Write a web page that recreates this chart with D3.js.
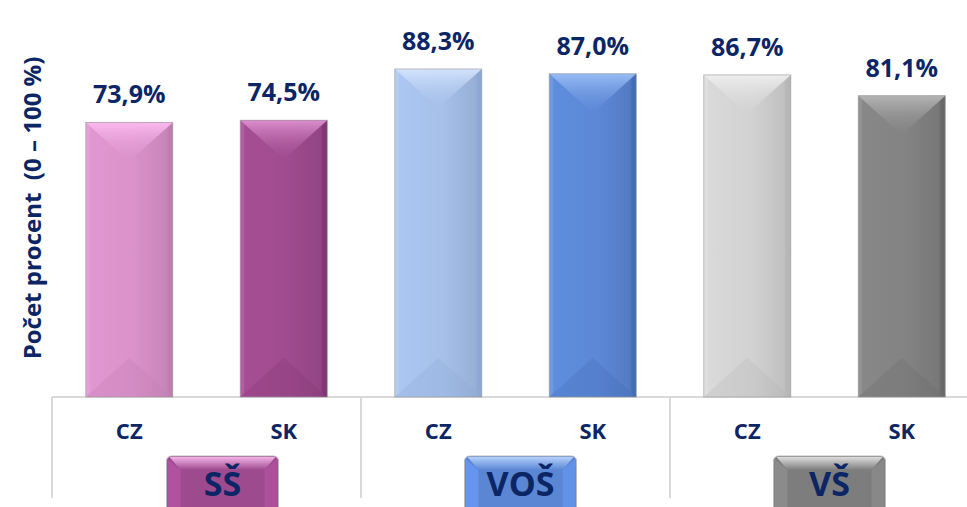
<!DOCTYPE html>
<meta charset="utf-8">
<script src="https://cdn.jsdelivr.net/npm/d3@7"></script>
<style>
body { margin: 0; background: #fff; }
text { font-family: "Open Sans", Lato, sans-serif; font-weight: 700; fill: #0b2565; white-space: pre; }
</style>
<body>
<script>

// data
var groups = ["SŠ", "VOŠ", "VŠ"];
var countries = ["CZ", "SK"];
var values = [73.9, 74.5, 88.3, 87.0, 86.7, 81.1];
var valueLabels = ["73,9%", "74,5%", "88,3%", "87,0%", "86,7%", "81,1%"];
var axisTitle = "Počet procent  (0 – 100 %)";

// colours per bar: [base, light, dark]
var barColors = [
  ["#da92ca", "#fab9ee", "#bf7aae"],
  ["#a04b90", "#db8ecd", "#7e3470"],
  ["#a6c0ea", "#d2e3fc", "#8aa6d4"],
  ["#5c88d6", "#97bcf5", "#4069b3"],
  ["#d2d2d2", "#eeeeee", "#b4b4b4"],
  ["#838383", "#b4b4b4", "#666666"]
];
var boxColors = [
  ["#9e4a8e", "#f3b1e6"],
  ["#5a86d4", "#b3d0fa"],
  ["#7d7d7d", "#dcdcdc"]
];
var boxShift = [16, 5, 5];

var width = 967, height = 507;
var base = 397;

var svg = d3.select("body").append("svg")
    .attr("width", width)
    .attr("height", height);

var defs = svg.append("defs");

var xGroup = d3.scaleBand().domain(groups).range([52, 979]);
var xInner = d3.scaleBand().domain(countries)
    .range([0, xGroup.bandwidth()])
    .paddingInner(0.437).paddingOuter(0.2185);
var y = d3.scaleLinear().domain([0, 100]).range([base, 25.5]);

var rows = values.map(function(v, i) {
  return {
    group: groups[Math.floor(i / 2)],
    country: countries[i % 2],
    value: v,
    label: valueLabels[i],
    col: barColors[i],
    i: i
  };
});

// gradients
rows.forEach(function(d) {
  var g = defs.append("linearGradient").attr("id", "body" + d.i)
      .attr("x1", 0).attr("x2", 1).attr("y1", 0).attr("y2", 0);
  g.append("stop").attr("offset", 0).attr("stop-color", d3.color(d.col[0]).brighter(0.1));
  g.append("stop").attr("offset", 0.55).attr("stop-color", d.col[0]);
  g.append("stop").attr("offset", 0.92).attr("stop-color", d3.color(d.col[0]).darker(0.25));
  g.append("stop").attr("offset", 1).attr("stop-color", d.col[2]);

  var t = defs.append("linearGradient").attr("id", "top" + d.i)
      .attr("x1", 0).attr("x2", 0).attr("y1", 0).attr("y2", 1);
  t.append("stop").attr("offset", 0).attr("stop-color", d.col[1]);
  t.append("stop").attr("offset", 1).attr("stop-color", d.col[0]).attr("stop-opacity", 0.3);
});

// axis lines
svg.append("line")
    .attr("x1", 52).attr("x2", width)
    .attr("y1", base).attr("y2", base)
    .attr("stroke", "#d9d9d9").attr("stroke-width", 2);

svg.selectAll(".sep")
    .data(groups)
    .enter().append("line")
    .attr("x1", function(d) { return xGroup(d); })
    .attr("x2", function(d) { return xGroup(d); })
    .attr("y1", base).attr("y2", 498)
    .attr("stroke", "#d9d9d9").attr("stroke-width", 2);

// bars
var bar = svg.selectAll(".bar")
    .data(rows)
    .enter().append("g")
    .attr("class", "bar");

bar.each(function(d) {
  var g = d3.select(this);
  var x0 = xGroup(d.group) + xInner(d.country),
      w = xInner.bandwidth(),
      x1 = x0 + w,
      xc = x0 + w / 2,
      y0 = y(d.value),
      y1 = base,
      dep = Math.min(w / 2 * 0.9, (y1 - y0) / 2);

  g.append("rect")
      .attr("x", x0).attr("y", y0)
      .attr("width", w).attr("height", y1 - y0)
      .attr("fill", "url(#body" + d.i + ")");

  // bottom bevel
  g.append("path")
      .attr("d", "M" + x0 + "," + y1 + "L" + x1 + "," + y1 + "L" + xc + "," + (y1 - dep) + "Z")
      .attr("fill", d.col[2]).attr("opacity", 0.25);

  // side edges
  g.append("path")
      .attr("d", "M" + x1 + "," + y0 + "L" + (x1 - 5) + "," + (y0 + 5) + "L" + (x1 - 5) + "," + (y1 - 5) + "L" + x1 + "," + y1 + "Z")
      .attr("fill", d.col[2]).attr("opacity", 0.5);
  g.append("path")
      .attr("d", "M" + x0 + "," + y0 + "L" + (x0 + 4) + "," + (y0 + 4) + "L" + (x0 + 4) + "," + (y1 - 4) + "L" + x0 + "," + y1 + "Z")
      .attr("fill", d.col[1]).attr("opacity", 0.25);

  // top bevel
  g.append("path")
      .attr("d", "M" + x0 + "," + y0 + "L" + x1 + "," + y0 + "L" + xc + "," + (y0 + dep) + "Z")
      .attr("fill", "url(#top" + d.i + ")");

  g.append("rect")
      .attr("x", x0).attr("y", y0)
      .attr("width", w).attr("height", y1 - y0)
      .attr("fill", "none")
      .attr("stroke", "#9a9a9a").attr("stroke-opacity", 0.6).attr("stroke-width", 1);

  g.append("text")
      .attr("x", xc).attr("y", y0 - 19)
      .attr("text-anchor", "middle")
      .attr("font-size", "25px")
      .text(d.label);

  g.append("text")
      .attr("x", xc).attr("y", 439)
      .attr("text-anchor", "middle")
      .attr("font-size", "22px")
      .text(d.country);
});

// group label boxes
groups.forEach(function(gname, k) {
  var cx = xGroup(gname) + xGroup.bandwidth() / 2 + boxShift[k];
  var bw = 112, bh = 62, bx = cx - bw / 2, by = 456, e = 14;
  var c = boxColors[k];

  var gr = defs.append("linearGradient").attr("id", "box" + k)
      .attr("x1", 0).attr("x2", 0).attr("y1", 0).attr("y2", 1);
  gr.append("stop").attr("offset", 0).attr("stop-color", c[1]);
  gr.append("stop").attr("offset", 1).attr("stop-color", c[0]);

  var g = svg.append("g");
  g.append("rect")
      .attr("x", bx).attr("y", by).attr("width", bw).attr("height", bh)
      .attr("rx", 5)
      .attr("fill", c[0])
      .attr("stroke", "#bbb").attr("stroke-width", 1);
  g.append("path")
      .attr("d", "M" + (bx + 3) + "," + (by + 1) + "L" + (bx + bw - 3) + "," + (by + 1) +
                 "L" + (bx + bw - e) + "," + (by + e) + "L" + (bx + e) + "," + (by + e) + "Z")
      .attr("fill", "url(#box" + k + ")");
  g.append("path")
      .attr("d", "M" + (bx + 1) + "," + (by + 3) + "L" + (bx + e) + "," + (by + e) +
                 "L" + (bx + e) + "," + (by + bh) + "L" + (bx + 1) + "," + (by + bh) + "Z")
      .attr("fill", d3.color(c[0]).brighter(0.5)).attr("opacity", 0.6);
  g.append("path")
      .attr("d", "M" + (bx + bw - 1) + "," + (by + 3) + "L" + (bx + bw - e) + "," + (by + e) +
                 "L" + (bx + bw - e) + "," + (by + bh) + "L" + (bx + bw - 1) + "," + (by + bh) + "Z")
      .attr("fill", d3.color(c[0]).brighter(0.4)).attr("opacity", 0.6);
  g.append("text")
      .attr("x", cx).attr("y", 496)
      .attr("text-anchor", "middle")
      .attr("font-size", "34px")
      .text(gname);
});

// y axis title
svg.append("text")
    .attr("transform", "translate(41,208) rotate(-90)")
    .attr("text-anchor", "middle")
    .attr("font-size", "24px")
    .text(axisTitle);

</script>
</body>
